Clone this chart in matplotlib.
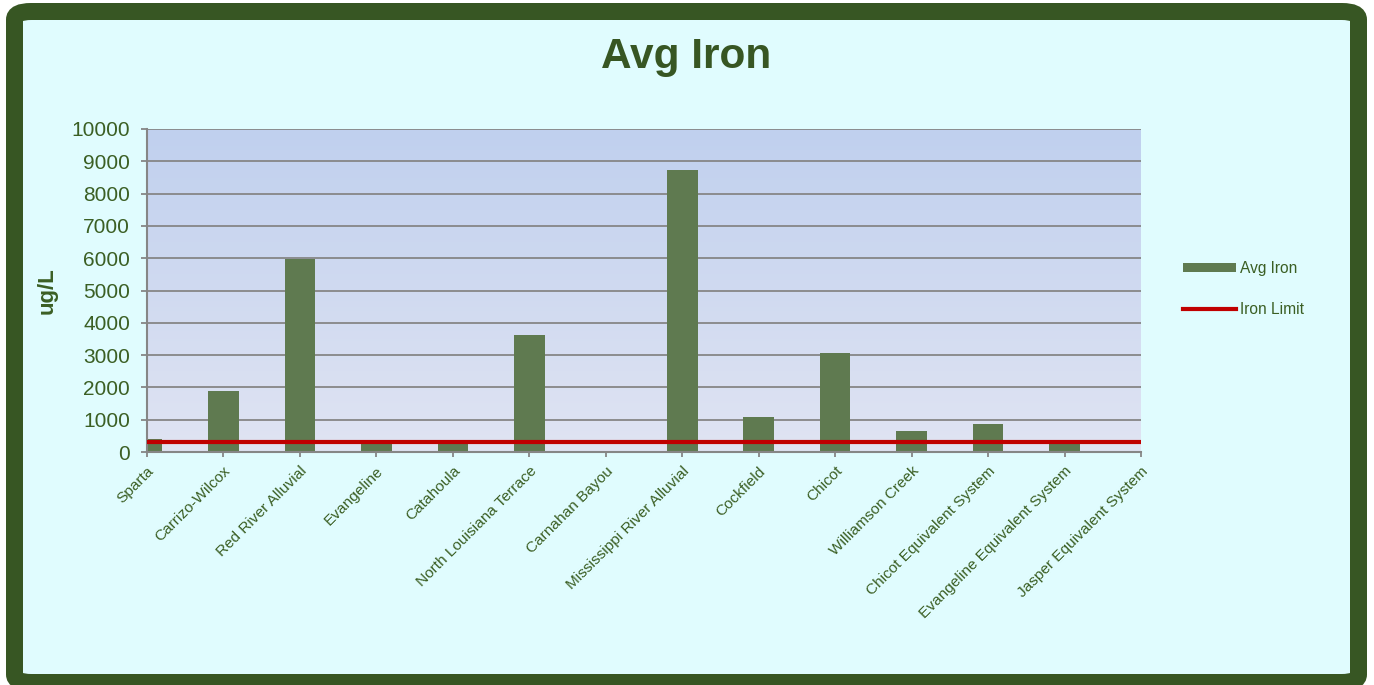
import numpy as np
import matplotlib
matplotlib.use("Agg")
import matplotlib.pyplot as plt
from matplotlib.patches import FancyBboxPatch, Patch
from matplotlib.lines import Line2D

categories = ["Sparta", "Carrizo-Wilcox", "Red River Alluvial", "Evangeline", "Catahoula",
              "North Louisiana Terrace", "Carnahan Bayou", "Mississippi River Alluvial",
              "Cockfield", "Chicot", "Williamson Creek", "Chicot Equivalent System",
              "Evangeline Equivalent System", "Jasper Equivalent System"]
avg_iron = [400, 1890, 5980, 320, 320, 3620, 0, 8730, 1080, 3065, 650, 860, 320, 0]
iron_limit = [300] * len(categories)
yticks = [0, 1000, 2000, 3000, 4000, 5000, 6000, 7000, 8000, 9000, 10000]

W, H = 1374, 685
fig = plt.figure(figsize=(W / 100, H / 100), dpi=100)
fig.patch.set_facecolor("white")

# frame
lw_px = 17
frame = FancyBboxPatch((14.5 / W, 2.5 / H), (1358.5 - 14.5) / W, (673.5 - 2.5) / H,
                       boxstyle="round,pad=0,rounding_size=0.012",
                       transform=fig.transFigure, facecolor="#e0fcfe",
                       edgecolor="#375623", linewidth=lw_px * 0.72, zorder=-5)
fig.patches.append(frame)

textc = "#3b5f24"
ax = fig.add_axes([147 / W, 1 - 452 / H, (1141 - 147) / W, (452 - 129) / H])
ax.set_zorder(2)
ax.set_facecolor("none")

x = np.arange(len(categories))
ax.set_xlim(0, len(categories) - 1)
ax.set_ylim(0, 10000)

# gradient background
grad = np.linspace(0, 1, 256).reshape(-1, 1)
top = np.array([0xc0, 0xd0, 0xee]) / 255
bot = np.array([0xe0, 0xe4, 0xf3]) / 255
img = bot + (top - bot) * grad
img = img[:, None, :] * np.ones((1, 2, 1))
ax.imshow(img, extent=[0, len(categories) - 1, 0, 10000], origin="lower",
          aspect="auto", zorder=0)

ax.set_yticks(yticks)
ax.yaxis.grid(True, color="#868686", linewidth=1.3, zorder=1)
ax.set_axisbelow(True)

ax.bar(x, avg_iron, width=0.4, color="#5f7a50", zorder=2, clip_on=True)
ax.plot(x, iron_limit, color="#c00000", linewidth=3, zorder=3, solid_capstyle="butt")

for s in ["top", "right"]:
    ax.spines[s].set_visible(False)
for s in ["left", "bottom"]:
    ax.spines[s].set_color("#868686")
    ax.spines[s].set_linewidth(1.5)

ax.set_xticks(x)
ax.set_xticklabels(categories, rotation=45, ha="right", rotation_mode="anchor",
                   fontsize=11.1, color=textc, family="Liberation Sans")
ax.tick_params(axis="x", length=3.6, color="#868686", width=1.3, pad=5)
ax.tick_params(axis="y", length=4.3, color="#868686", width=1.3, labelsize=15,
               labelcolor=textc, pad=8)
for lab in ax.get_yticklabels():
    lab.set_family("Liberation Sans")

ax.set_ylabel("ug/L", fontsize=16, fontweight="bold", color=textc,
              family="Liberation Sans", labelpad=10)

fig.text(686 / W, 1 - 57 / H, "Avg Iron", ha="center", va="center", fontsize=30.5,
         fontweight="bold", color="#375623", family="Liberation Sans")

handles = [Patch(facecolor="#5f7a50", edgecolor="none"),
           Line2D([], [], color="#c00000", linewidth=3)]
leg = fig.legend(handles, ["Avg Iron", "Iron Limit"], loc="center left",
                 bbox_to_anchor=(1169 / W, 1 - 289 / H), frameon=False,
                 labelspacing=1.7, handlelength=3.4, handleheight=0.55,
                 handletextpad=0.25, prop={"family": "Liberation Sans", "size": 11.2})
for t in leg.get_texts():
    t.set_color(textc)

fig.savefig("out.png", dpi=100, facecolor=fig.get_facecolor())
